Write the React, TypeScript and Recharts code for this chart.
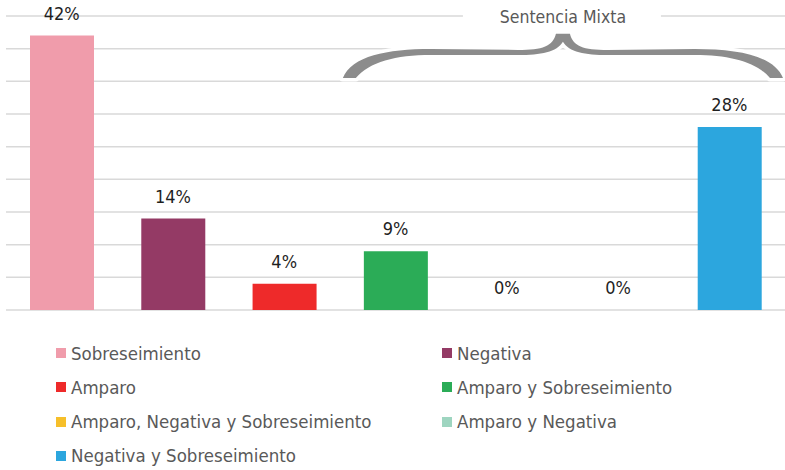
import React from 'react';
import { ComposedChart, Bar, Line, XAxis, YAxis, CartesianGrid, Cell, LabelList } from 'recharts';

const categories = [
  'Sobreseimiento',
  'Negativa',
  'Amparo',
  'Amparo y Sobreseimiento',
  'Amparo, Negativa y Sobreseimiento',
  'Amparo y Negativa',
  'Negativa y Sobreseimiento',
];
const percentages = [42, 14, 4, 9, 0, 0, 28];
const colors = ['#F09CAB', '#943A65', '#EE2A2A', '#2BAC57', '#F6BF2A', '#9ED5C0', '#2CA6DE'];
const yTicks = [0, 5, 10, 15, 20, 25, 30, 35, 40, 45];
const bracketLabel = 'Sentencia Mixta';

const W = 785;
const H = 470;
const PLOT_LEFT = 6;
const PLOT_TOP = 16;
const PLOT_BOTTOM = 310;
const FONT = '"DejaVu Sans Condensed", "DejaVu Sans", sans-serif';

const data = categories.map((name, i) => ({ name, value: percentages[i], color: colors[i] }));

// curly brace, filled shape from x0 to x1; ends at yEnd, arms near yArm, tip at yTip
const bracePath = (x0: number, x1: number, yEnd: number, yArm: number, yTip: number) => {
  const m = (x0 + x1) / 2;
  const w = x1 - x0;
  const a = (f: number) => x0 + w * f;
  const b = (f: number) => x1 - w * f;
  return [
    `M ${x0} ${yEnd}`,
    `C ${a(0.02)} ${yArm + 4} ${a(0.1)} ${yArm - 3} ${a(0.2)} ${yArm - 3}`,
    `L ${m - 45} ${yArm - 2}`,
    `C ${m - 20} ${yArm - 2} ${m - 10} ${yArm - 6} ${m - 7} ${yTip}`,
    `L ${m + 7} ${yTip}`,
    `C ${m + 10} ${yArm - 6} ${m + 20} ${yArm - 2} ${m + 45} ${yArm - 2}`,
    `L ${b(0.2)} ${yArm - 3}`,
    `C ${b(0.1)} ${yArm - 3} ${b(0.02)} ${yArm + 4} ${x1} ${yEnd}`,
    `L ${x1 - 13} ${yEnd}`,
    `C ${b(0.06)} ${yArm + 10} ${b(0.12)} ${yArm + 3} ${b(0.2)} ${yArm + 3}`,
    `L ${m + 45} ${yArm + 3}`,
    `C ${m + 22} ${yArm + 3} ${m + 6} ${yArm} ${m} ${yTip + 8}`,
    `C ${m - 6} ${yArm} ${m - 22} ${yArm + 3} ${m - 45} ${yArm + 3}`,
    `L ${a(0.2)} ${yArm + 3}`,
    `C ${a(0.12)} ${yArm + 3} ${a(0.06)} ${yArm + 10} ${x0 + 13} ${yEnd}`,
    'Z',
  ].join(' ');
};

const Overlay: React.FC = () => {
  const band = (W - PLOT_LEFT) / categories.length;
  const yOf = (v: number) => PLOT_BOTTOM - ((PLOT_BOTTOM - PLOT_TOP) * v) / 45;
  const x0 = PLOT_LEFT + band * 3 + 3;
  const x1 = PLOT_LEFT + band * 7 - 2;
  const mid = (x0 + x1) / 2;
  const d = bracePath(x0, x1, yOf(35.5), yOf(39.5), yOf(42.3));
  return (
    <svg width={W} height={H} style={{ position: 'absolute', left: 0, top: 0, pointerEvents: 'none' }}>
      <rect x={mid - 100} y={6} width={198} height={20} fill="#fff" />
      <text x={mid} y={23} textAnchor="middle" fill="#595959" fontSize={17.5} fontFamily={FONT}>
        {bracketLabel}
      </text>
      <path d={d} fill="#fff" stroke="#fff" strokeWidth={7} strokeLinejoin="round" />
      <path d={d} fill="#8C8C8C" />
    </svg>
  );
};

const LegendBlock: React.FC = () => (
  <div style={{ position: 'absolute', left: 0, top: 336, width: W, fontFamily: FONT, fontSize: 18.5, color: '#595959' }}>
    {data.map((d, i) => (
      <div
        key={d.name}
        style={{
          position: 'absolute',
          left: i % 2 === 0 ? 56 : 442,
          top: Math.floor(i / 2) * 34.3,
          height: 34,
          display: 'flex',
          alignItems: 'center',
          whiteSpace: 'nowrap',
        }}
      >
        <span style={{ width: 10, height: 10, background: d.color, marginRight: 5, display: 'inline-block' }} />
        <span>{d.name}</span>
      </div>
    ))}
  </div>
);

export default function App() {
  return (
    <div style={{ position: 'absolute', left: 0, top: 0, width: W, height: H, background: '#fff' }}>
      <ComposedChart
        width={W}
        height={H}
        data={data}
        margin={{ top: PLOT_TOP, right: 0, left: PLOT_LEFT, bottom: H - PLOT_BOTTOM }}
      >
        <CartesianGrid vertical={false} stroke="#D9D9D9" strokeWidth={1.5} />
        <XAxis dataKey="name" height={0} tick={false} tickLine={false} axisLine={{ stroke: '#A6A6A6', strokeWidth: 1.5 }} />
        <YAxis hide domain={[0, 45]} ticks={yTicks} />
        <Bar dataKey="value" barSize={64} isAnimationActive={false}>
          {data.map((d) => (
            <Cell key={d.name} fill={d.color} />
          ))}
        </Bar>
        {/* invisible series that carries the value labels, so the 0% ones show too */}
        <Line dataKey="value" stroke="none" dot={false} activeDot={false} isAnimationActive={false}>
          <LabelList
            dataKey="value"
            position="top"
            offset={16}
            formatter={(v: any) => `${v}%`}
            style={{ fill: '#1F1F1F', fontSize: 18, fontFamily: FONT }}
          />
        </Line>
      </ComposedChart>
      <Overlay />
      <LegendBlock />
    </div>
  );
}
